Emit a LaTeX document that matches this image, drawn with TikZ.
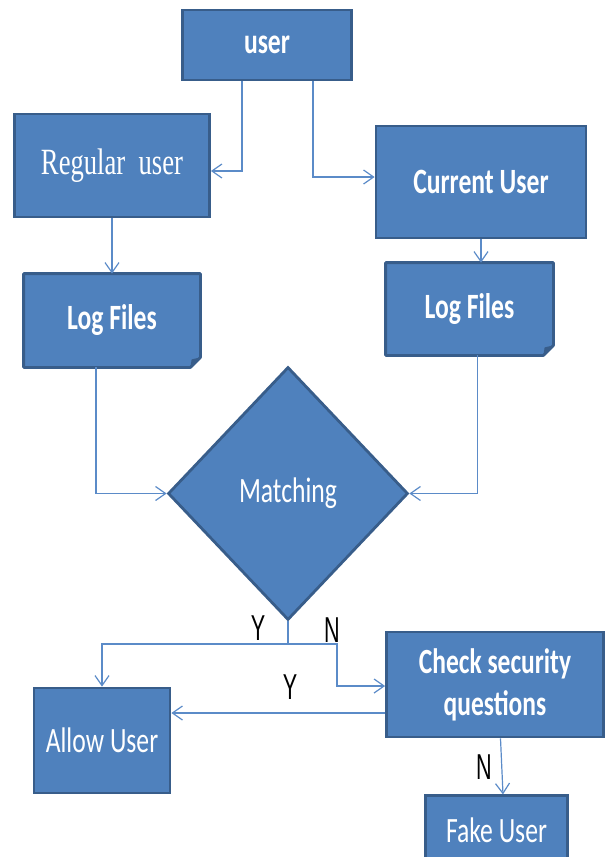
\documentclass[tikz,border=0pt]{standalone}
\usepackage{fontspec}
\setmainfont{Carlito}[FakeStretch=0.72]
\newfontfamily\regfont{Liberation Serif}[FakeStretch=0.72]
\newfontfamily\ynfont{Liberation Sans}[FakeStretch=0.6]
\usepackage{tikz}
\usetikzlibrary{arrows.meta,
                positioning,
                backgrounds,
                shapes.geometric}
\definecolor{boxfill}{HTML}{4F81BD}
\definecolor{boxedge}{HTML}{385D8A}
\definecolor{linec}{HTML}{5B8BC8}
\newcommand{\foldcorner}[1]{%
  \begin{pgfonlayer}{background}
    \filldraw[fill=boxfill,draw=boxedge,line width=1.4pt,line join=round]
      (#1.north west) -- (#1.north east) -- ([yshift=5pt]#1.south east)
      -- ([xshift=-5pt]#1.south east) -- (#1.south west) -- cycle;
    \fill[boxedge] ([xshift=-5pt]#1.south east) -- ([xshift=-4.4pt,yshift=4pt]#1.south east)
      -- ([yshift=5pt]#1.south east) -- cycle;
  \end{pgfonlayer}
}
\tikzstyle{blockbox} = [rectangle,fill=boxfill,draw=boxedge,line width=1.4pt,text=white,font=\fontsize{17.8}{20}\selectfont,align=center,inner sep=0pt]
\tikzstyle{logbox} = [rectangle,text=white,font=\fontsize{17.8}{20}\selectfont\bfseries,inner sep=0pt]
\tikzstyle{flowarrow} = [draw=linec,line width=0.6pt,-{Straight Barb[length=5pt,width=7pt]}]
\tikzstyle{flowline} = [draw=linec,line width=0.6pt]
\tikzstyle{yn} = [font=\ynfont\fontsize{18}{20}\selectfont,inner sep=0pt]

\begin{document}
\begin{tikzpicture}[x=0.5pt,y=-0.5pt]
    \useasboundingbox (0,0) rectangle (607,857);

    \node[blockbox,font=\fontsize{17.8}{20}\selectfont\bfseries,minimum width=84.5pt,minimum height=35pt] (user) at (267,45) {user};
    \node[blockbox,font=\regfont\fontsize{18.5}{21}\selectfont,minimum width=97.5pt,minimum height=51.5pt] (reg) at (112,165.5) {Regular\ \ user};
    \node[blockbox,font=\fontsize{17.8}{20}\selectfont\bfseries,minimum width=105pt,minimum height=56pt] (cur) at (481,182) {Current\,User};

    \node[logbox,minimum width=88pt,minimum height=46.5pt] (logL) at (112,320.5) {Log Files};
    \node[logbox,minimum width=83.5pt,minimum height=46pt] (logR) at (469.5,309) {Log Files};
    \foldcorner{logL}
    \foldcorner{logR}

    \node[blockbox,diamond,minimum width=120pt,minimum height=126.5pt] (match) at (288,493.5) {Matching};

    \node[blockbox,minimum width=68pt,minimum height=52.5pt] (allow) at (102,740.5) {Allow\,User};
    \node[blockbox,font=\fontsize{17.7}{21}\selectfont\bfseries,minimum width=108.5pt,minimum height=52.5pt] (check) at (495,684.5) {Check security\\questions};
    \node[blockbox,minimum width=71pt,minimum height=34pt,below=28pt of check.south,anchor=north,xshift=0.75pt] (fake) {Fake User};

    \coordinate (split) at (288,644);
    \coordinate (turn) at (337,644);

    \node[yn] (y1) at (258,628) {Y};
    \node[yn] (n1) at (332,630) {N};
    \node[yn] (y2) at (290,687) {Y};
    \node[yn] (n2) at (484,767) {N};

    \draw[flowarrow] ([xshift=-12.5pt]user.south) |- ([yshift=-2.75pt]reg.east);
    \draw[flowarrow] ([xshift=23pt]user.south) |- ([yshift=2.5pt]cur.west);
    \draw[flowarrow] (reg.south) -- (logL.north);
    \draw[flowarrow] (cur.south) -- (cur.south |- logR.north);
    \draw[flowarrow] ([xshift=-8pt]logL.south) |- (match.west);
    \draw[flowarrow] ([xshift=4pt]logR.south) |- (match.east);
    \draw[flowline] (match.south) -- (split);
    \draw[flowarrow] (split) -| (allow.north);
    \draw[flowarrow] (split) -- (turn) |- ([yshift=-0.75pt]check.west);
    \draw[flowarrow] ([yshift=-14.25pt]check.west) -- ([yshift=-14.25pt]check.west -| allow.east);
    \draw[flowarrow] ([xshift=2.75pt]check.south) -- ([xshift=3.25pt]fake.north);
\end{tikzpicture}
\end{document}
